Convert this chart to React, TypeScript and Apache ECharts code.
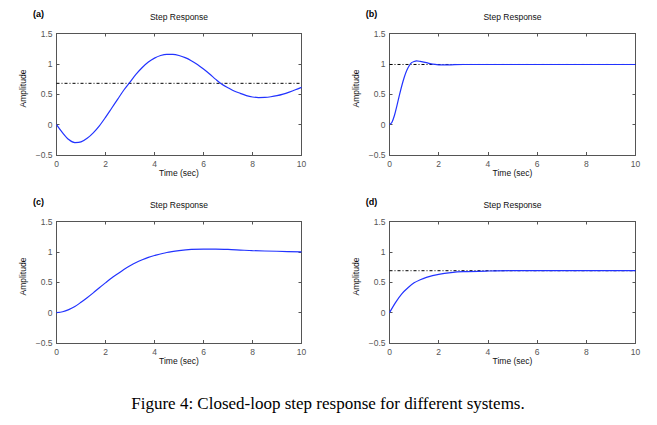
import React, { useEffect, useRef } from "react";
import * as echarts from "echarts";

const panelLabels = ["(a)", "(b)", "(c)", "(d)"];
const chartTitle = "Step Response";
const xAxisName = "Time (sec)";
const yAxisName = "Amplitude";
const caption = "Figure 4: Closed-loop step response for different systems.";

const xTicks = [0, 2, 4, 6, 8, 10];
const yTicks = [-0.5, 0, 0.5, 1, 1.5];

const timeA = [0, 0.25, 0.5, 0.75, 1, 1.25, 1.5, 1.75, 2, 2.25, 2.5, 2.75, 3, 3.25, 3.5, 3.75, 4, 4.25, 4.5, 4.75, 5, 5.25, 5.5, 5.75, 6, 6.25, 6.5, 6.75, 7, 7.25, 7.5, 7.75, 8, 8.25, 8.5, 8.75, 9, 9.25, 9.5, 9.75, 10];
const respA = [0, -0.135, -0.245, -0.295, -0.285, -0.225, -0.135, -0.02, 0.12, 0.27, 0.42, 0.57, 0.7, 0.83, 0.94, 1.03, 1.095, 1.138, 1.158, 1.157, 1.138, 1.103, 1.053, 0.99, 0.915, 0.833, 0.745, 0.664, 0.607, 0.554, 0.515, 0.478, 0.455, 0.446, 0.448, 0.459, 0.477, 0.503, 0.536, 0.573, 0.614];
const steadyA = 0.68;

const timeB = [0, 0.1, 0.2, 0.3, 0.4, 0.5, 0.6, 0.7, 0.8, 0.9, 1.0, 1.1, 1.25, 1.5, 1.75, 2.0, 2.25, 2.5, 3, 4, 5, 6, 7, 8, 9, 10];
const respB = [0, 0.04, 0.15, 0.31, 0.48, 0.64, 0.78, 0.89, 0.97, 1.02, 1.04, 1.05, 1.04, 1.02, 0.995, 0.985, 0.982, 0.985, 0.99, 0.99, 0.99, 0.99, 0.99, 0.99, 0.99, 0.99];
const steadyB = 0.99;

const timeC = [0, 0.25, 0.5, 0.75, 1, 1.25, 1.5, 1.75, 2, 2.25, 2.5, 2.75, 3, 3.25, 3.5, 3.75, 4, 4.5, 5, 5.5, 6, 6.5, 7, 7.5, 8, 9, 10];
const respC = [0, 0.015, 0.05, 0.1, 0.17, 0.245, 0.325, 0.41, 0.49, 0.57, 0.64, 0.71, 0.77, 0.825, 0.87, 0.91, 0.94, 0.99, 1.02, 1.04, 1.045, 1.045, 1.04, 1.03, 1.02, 1.01, 1.0];

const timeD = [0, 0.25, 0.5, 0.75, 1, 1.25, 1.5, 2, 2.5, 3, 4, 5, 6, 7, 8, 9, 10];
const respD = [0, 0.17, 0.31, 0.41, 0.49, 0.54, 0.58, 0.63, 0.66, 0.675, 0.685, 0.69, 0.69, 0.69, 0.69, 0.69, 0.69];
const steadyD = 0.69;

const panels = [
  { t: timeA, y: respA, ss: steadyA as number | null },
  { t: timeB, y: respB, ss: steadyB as number | null },
  { t: timeC, y: respC, ss: null as number | null },
  { t: timeD, y: respD, ss: steadyD as number | null },
];

const grids = [
  { left: 56.5, top: 33.5, width: 245, height: 121.5 },
  { left: 389.5, top: 33.5, width: 246, height: 121.5 },
  { left: 56.5, top: 221.5, width: 245, height: 121.5 },
  { left: 389.5, top: 221.5, width: 246, height: 121.5 },
];

const frameColor = "#555555";
const tickColor = "#555555";
const sans = "'Liberation Sans', Arial, sans-serif";

function fmt(v: number) {
  return String(v).replace("-", "\u2212");
}

export default function App() {
  const ref = useRef<HTMLDivElement>(null);
  useEffect(() => {
    if (!ref.current) return;
    const chart = echarts.init(ref.current, null, { renderer: "svg" });
    const xAxes: any[] = [];
    const yAxes: any[] = [];
    const series: any[] = [];
    const graphics: any[] = [];
    grids.forEach((g, i) => {
      const base = {
        gridIndex: i,
        type: "value",
        axisLine: { show: true, onZero: false, lineStyle: { color: frameColor, width: 1 } },
        axisTick: { show: true, inside: true, length: 3, lineStyle: { color: frameColor } },
        splitLine: { show: false },
      };
      xAxes.push({
        ...base,
        position: "bottom",
        min: xTicks[0],
        max: xTicks[xTicks.length - 1],
        interval: 2,
        axisLabel: { color: tickColor, fontSize: 8.5, fontFamily: sans, margin: 4, formatter: fmt },
      });
      xAxes.push({
        ...base,
        position: "top",
        min: xTicks[0],
        max: xTicks[xTicks.length - 1],
        interval: 2,
        axisLabel: { show: false },
      });
      yAxes.push({
        ...base,
        position: "left",
        min: yTicks[0],
        max: yTicks[yTicks.length - 1],
        interval: 0.5,
        axisLabel: { color: tickColor, fontSize: 8.5, fontFamily: sans, margin: 4, formatter: fmt },
      });
      yAxes.push({
        ...base,
        position: "right",
        min: yTicks[0],
        max: yTicks[yTicks.length - 1],
        interval: 0.5,
        axisLabel: { show: false },
      });
      const p = panels[i];
      if (p.ss !== null) {
        series.push({
          type: "line",
          xAxisIndex: i * 2,
          yAxisIndex: i * 2,
          data: [[xTicks[0], p.ss], [xTicks[xTicks.length - 1], p.ss]],
          showSymbol: false,
          symbol: "none",
          lineStyle: { color: "#000000", width: 1, type: [3, 2, 1, 2] },
          z: 3,
        });
      }
      series.push({
        type: "line",
        xAxisIndex: i * 2,
        yAxisIndex: i * 2,
        data: p.t.map((t, k) => [t, p.y[k]]),
        showSymbol: false,
        symbol: "none",
        smooth: 0.3,
        lineStyle: { color: "#2233ff", width: 1.2 },
        z: 4,
      });
      const cx = g.left + g.width / 2;
      graphics.push({
        type: "text",
        x: cx,
        y: g.top - 16.5,
        style: { text: chartTitle, fill: "#111", font: `8.5px ${sans}`, align: "center", verticalAlign: "middle" },
      });
      graphics.push({
        type: "text",
        x: g.left - 18,
        y: g.top - 20,
        style: { text: panelLabels[i], fill: "#000", font: `bold 9px ${sans}`, align: "center", verticalAlign: "middle" },
      });
      graphics.push({
        type: "text",
        x: cx,
        y: g.top + g.height + 17.5,
        style: { text: xAxisName, fill: "#111", font: `8.5px ${sans}`, align: "center", verticalAlign: "middle" },
      });
      graphics.push({
        type: "text",
        x: g.left - 34,
        y: g.top + 55,
        rotation: Math.PI / 2,
        style: { text: yAxisName, fill: "#111", font: `8.5px ${sans}`, align: "center", verticalAlign: "middle" },
      });
    });
    graphics.push({
      type: "text",
      x: 328,
      y: 403,
      style: { text: caption, fill: "#000", font: "17px 'Liberation Serif', 'Times New Roman', serif", align: "center", verticalAlign: "middle" },
    });
    chart.setOption({
      animation: false,
      backgroundColor: "#ffffff",
      grid: grids.map((g) => ({ ...g, containLabel: false })),
      xAxis: xAxes,
      yAxis: yAxes,
      series,
      graphic: graphics,
    });
    return () => chart.dispose();
  }, []);
  return <div ref={ref} style={{ position: "fixed", left: 0, top: 0, width: 657, height: 425 }} />;
}
